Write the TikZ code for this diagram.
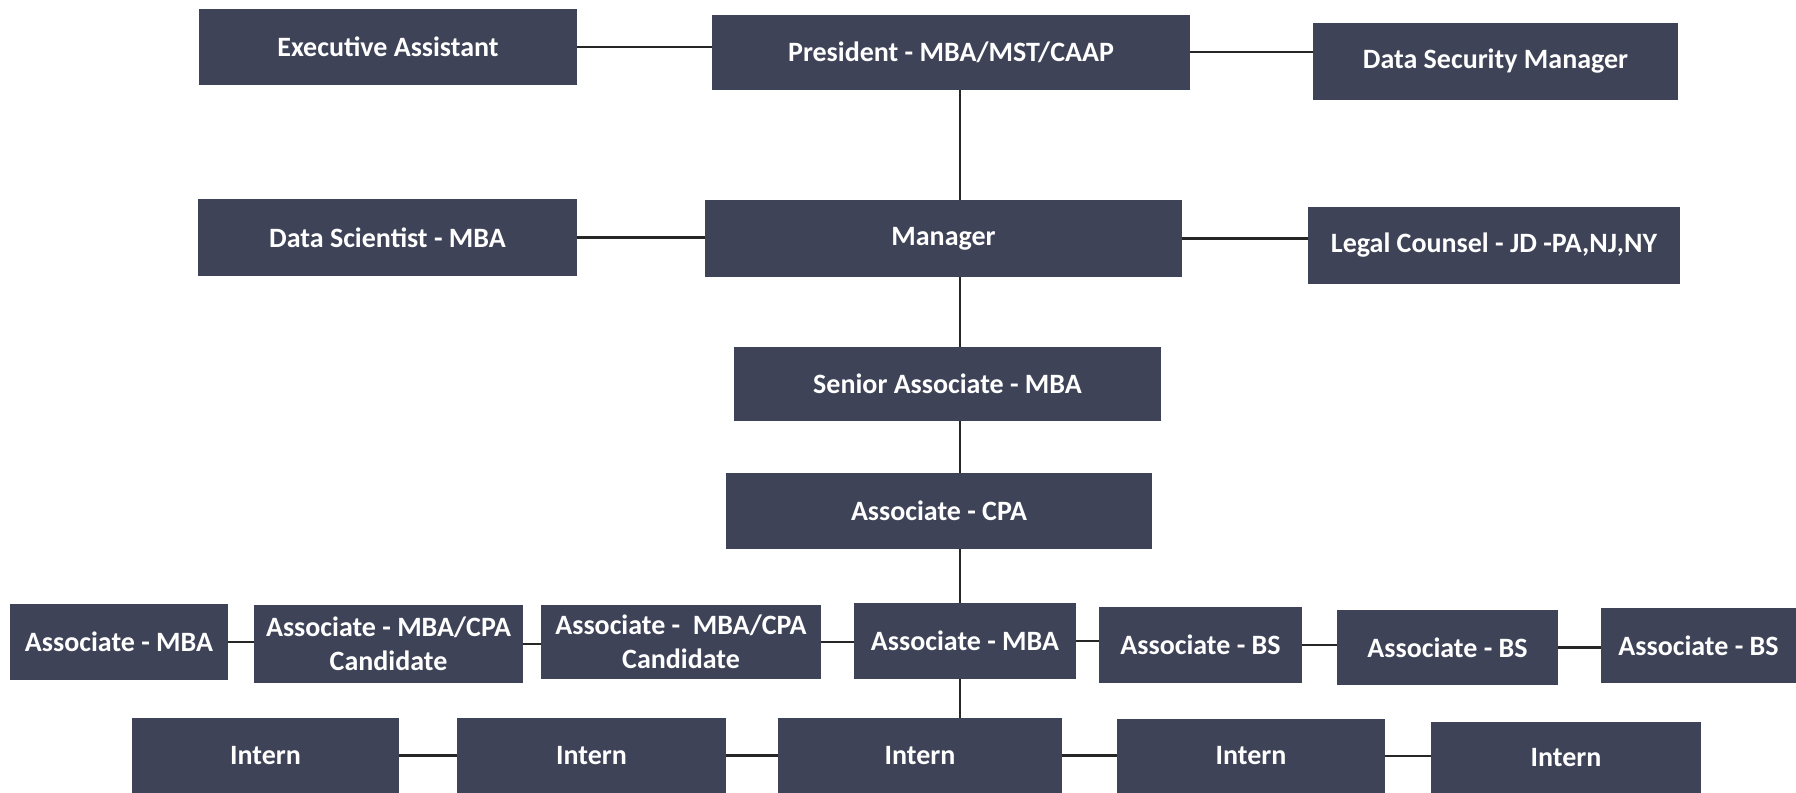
\documentclass[tikz,border=0pt]{standalone}
\usepackage{fontspec}
\setmainfont{Carlito}
\definecolor{boxfill}{RGB}{62,67,88}
\begin{document}
\begin{tikzpicture}[x=0.5pt,y=-0.5pt,
    role/.style={fill=boxfill,text=white,align=center,inner sep=0pt,
      font=\bfseries\fontsize{14}{17}\selectfont},
    link/.style={line width=1.2pt,black!85}]
  \useasboundingbox (0,0) rectangle (1796,793);
  \coordinate (spine) at (960,0);
  % top two rows
  \node[role,minimum width=189pt,minimum height=38pt] (exec) at (388,47) {Executive Assistant};
  \node[role,minimum width=239pt,minimum height=37.5pt] (pres) at (951,52) {President - MBA/MST/CAAP};
  \node[role,minimum width=182.5pt,minimum height=38.5pt] (dsm) at (1495.5,61.5) {Data Security Manager};
  \node[role,minimum width=189.5pt,minimum height=38.5pt] (dsci) at (387.5,237.5) {Data Scientist - MBA};
  \node[role,minimum width=238.5pt,minimum height=38.5pt] (mgr) at (943.5,238.5) {Manager};
  \node[role,minimum width=186pt,minimum height=38.5pt] (legal) at (1494,245.5) {Legal Counsel - JD -PA,NJ,NY};
  % middle column
  \node[role,minimum width=213.5pt,minimum height=37pt] (senior) at (947.5,384) {Senior Associate - MBA};
  \node[role,minimum width=213pt,minimum height=38pt] (cpa) at (939,511) {Associate - CPA};
  % associates
  \node[role,minimum width=109pt,minimum height=38pt] (as1) at (119,642) {Associate - MBA};
  \node[role,minimum width=134.5pt,minimum height=39pt] (as2) at (388.5,644) {Associate - MBA/CPA\\Candidate};
  \node[role,minimum width=140pt,minimum height=37pt] (as3) at (681,642) {Associate -\ \ MBA/CPA\\Candidate};
  \node[role,minimum width=111pt,minimum height=38pt] (as4) at (965,641) {Associate - MBA};
  \node[role,minimum width=101.5pt,minimum height=38pt] (as5) at (1200.5,645) {Associate - BS};
  \node[role,minimum width=110.5pt,minimum height=37.5pt] (as6) at (1447.5,647.5) {Associate - BS};
  \node[role,minimum width=97.5pt,minimum height=37.5pt] (as7) at (1698.5,645.5) {Associate - BS};
  % interns
  \node[role,minimum width=133.5pt,minimum height=37.5pt] (in1) at (265.5,755.5) {Intern};
  \node[role,minimum width=134.5pt,minimum height=37.5pt] (in2) at (591.5,755.5) {Intern};
  \node[role,minimum width=142pt,minimum height=37.5pt] (in3) at (920,755.5) {Intern};
  \node[role,minimum width=134pt,minimum height=37pt] (in4) at (1251,756) {Intern};
  \node[role,minimum width=135pt,minimum height=35.5pt] (in5) at (1566,757.5) {Intern};

  % connectors
  \draw[link] (exec.east) -- (exec.east -| pres.west);
  \draw[link] (pres.east) -- (pres.east -| dsm.west);
  \draw[link] (dsci.east) -- (dsci.east -| mgr.west);
  \draw[link] (mgr.east) -- (mgr.east -| legal.west);
  \draw[link] (pres.south -| spine) -- (mgr.north -| spine);
  \draw[link] (mgr.south -| spine) -- (senior.north -| spine);
  \draw[link] (senior.south -| spine) -- (cpa.north -| spine);
  \draw[link] (cpa.south -| spine) -- (as4.north -| spine);
  \draw[link] (as4.south -| spine) -- (in3.north -| spine);
  \foreach \a/\b in {as1/as2,as2/as3,as3/as4,as4/as5,as5/as6,as6/as7,in1/in2,in2/in3,in3/in4,in4/in5}
    \draw[link] (\a.east) -- (\a.east -| \b.west);
\end{tikzpicture}
\end{document}
